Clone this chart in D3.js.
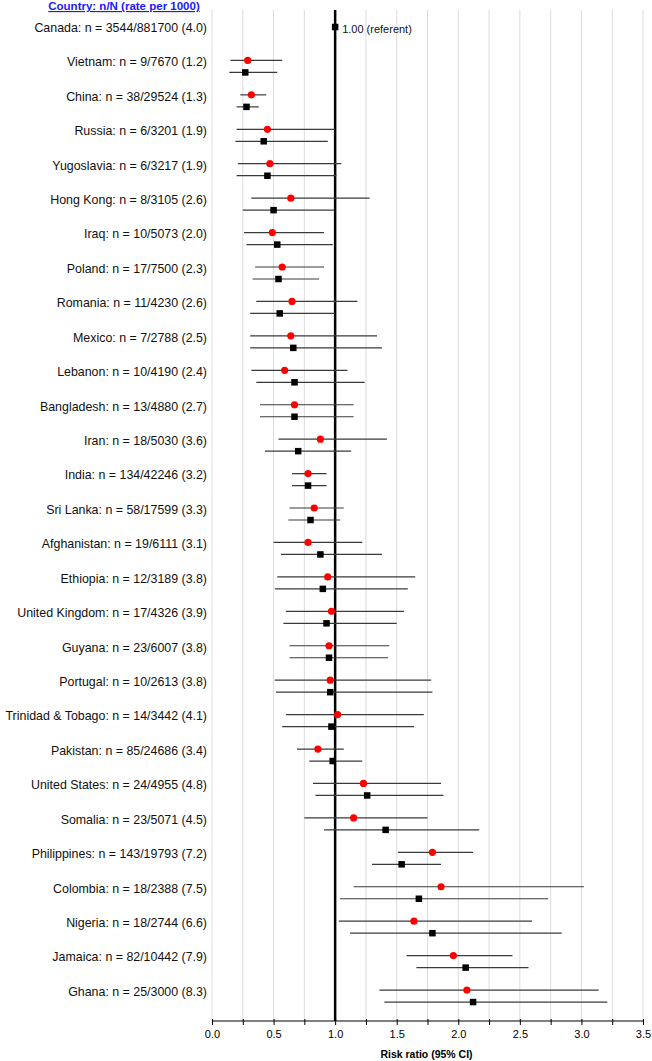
<!DOCTYPE html>
<html>
<head>
<meta charset="utf-8">
<script src="https://cdn.jsdelivr.net/npm/d3@7"></script>
<style>
  body { margin: 0; background: #fff; }
  svg { font-family: Arial, "Liberation Sans", sans-serif; }
</style>
</head>
<body>
<div id="chart"></div>
<script>
var WIDTH = 652, HEIGHT = 1061;
var PLOT_LEFT = 212, PLOT_RIGHT = 643;
var PLOT_TOP = 10, AXIS_Y = 1021;
var ROW_FIRST = 27, ROW_STEP = 34.43;

var countries = ["Canada: n = 3544/881700 (4.0)", "Vietnam: n = 9/7670 (1.2)", "China: n = 38/29524 (1.3)",
  "Russia: n = 6/3201 (1.9)", "Yugoslavia: n = 6/3217 (1.9)", "Hong Kong: n = 8/3105 (2.6)",
  "Iraq: n = 10/5073 (2.0)", "Poland: n = 17/7500 (2.3)", "Romania: n = 11/4230 (2.6)",
  "Mexico: n = 7/2788 (2.5)", "Lebanon: n = 10/4190 (2.4)", "Bangladesh: n = 13/4880 (2.7)",
  "Iran: n = 18/5030 (3.6)", "India: n = 134/42246 (3.2)", "Sri Lanka: n = 58/17599 (3.3)",
  "Afghanistan: n = 19/6111 (3.1)", "Ethiopia: n = 12/3189 (3.8)", "United Kingdom: n = 17/4326 (3.9)",
  "Guyana: n = 23/6007 (3.8)", "Portugal: n = 10/2613 (3.8)", "Trinidad & Tobago: n = 14/3442 (4.1)",
  "Pakistan: n = 85/24686 (3.4)", "United States: n = 24/4955 (4.8)", "Somalia: n = 23/5071 (4.5)",
  "Philippines: n = 143/19793 (7.2)", "Colombia: n = 18/2388 (7.5)", "Nigeria: n = 18/2744 (6.6)",
  "Jamaica: n = 82/10442 (7.9)", "Ghana: n = 25/3000 (8.3)"];

// red circles (first estimate), null for the referent row
var redRR = [null, 0.29, 0.32, 0.45, 0.47, 0.64, 0.49, 0.57, 0.65, 0.64, 0.59, 0.67, 0.88, 0.78, 0.83,
  0.78, 0.94, 0.97, 0.95, 0.96, 1.02, 0.86, 1.23, 1.15, 1.79, 1.86, 1.64, 1.96, 2.07];
var redLo = [null, 0.15, 0.23, 0.20, 0.21, 0.32, 0.26, 0.35, 0.36, 0.31, 0.32, 0.39, 0.54, 0.65, 0.63,
  0.50, 0.53, 0.60, 0.63, 0.51, 0.60, 0.69, 0.82, 0.75, 1.51, 1.15, 1.03, 1.58, 1.36];
var redHi = [null, 0.57, 0.44, 1.00, 1.05, 1.28, 0.91, 0.91, 1.18, 1.34, 1.10, 1.15, 1.42, 0.93, 1.07,
  1.22, 1.65, 1.56, 1.44, 1.78, 1.72, 1.07, 1.86, 1.75, 2.12, 3.02, 2.60, 2.44, 3.14];

// black squares (second estimate)
var blackRR = [1.00, 0.27, 0.28, 0.42, 0.45, 0.50, 0.53, 0.54, 0.55, 0.66, 0.67, 0.67, 0.70, 0.78, 0.80,
  0.88, 0.90, 0.93, 0.95, 0.96, 0.97, 0.98, 1.26, 1.41, 1.54, 1.68, 1.79, 2.06, 2.12];
var blackLo = [null, 0.14, 0.20, 0.19, 0.20, 0.25, 0.28, 0.33, 0.31, 0.31, 0.36, 0.39, 0.43, 0.65, 0.62,
  0.56, 0.51, 0.58, 0.63, 0.52, 0.57, 0.79, 0.84, 0.91, 1.30, 1.04, 1.12, 1.66, 1.40];
var blackHi = [null, 0.53, 0.38, 0.94, 1.01, 0.99, 0.98, 0.87, 1.00, 1.38, 1.24, 1.15, 1.13, 0.93, 1.04,
  1.38, 1.59, 1.50, 1.43, 1.79, 1.64, 1.22, 1.88, 2.17, 1.86, 2.73, 2.84, 2.57, 3.21];

var xMajorTicks = [0, 0.5, 1.0, 1.5, 2.0, 2.5, 3.0, 3.5];
var xGridTicks = d3.range(0, 3.51, 0.25);

var svg = d3.select("#chart").append("svg")
  .attr("width", WIDTH).attr("height", HEIGHT);

var x = d3.scaleLinear().domain([0, 3.5]).range([PLOT_LEFT, PLOT_RIGHT]);
var y = function(i) { return ROW_FIRST + i * ROW_STEP; };

//light vertical gridlines every 0.25
svg.selectAll(".grid")
  .data(xGridTicks)
  .enter().append("line")
  .attr("x1", function(d) { return x(d); }).attr("x2", function(d) { return x(d); })
  .attr("y1", PLOT_TOP).attr("y2", AXIS_Y)
  .attr("stroke", "#dcdcdc").attr("stroke-width", 1);

//bottom axis
var axis = d3.axisBottom(x).tickValues(xGridTicks).tickSize(4)
  .tickFormat(function(d) { return xMajorTicks.indexOf(d) >= 0 ? d3.format(".1f")(d) : ""; });
var axisG = svg.append("g").attr("transform", "translate(0," + AXIS_Y + ")").call(axis);
axisG.select(".domain").attr("stroke", "#000").attr("d", "M" + PLOT_LEFT + ",0H" + PLOT_RIGHT);
axisG.selectAll(".tick line").attr("stroke", "#000").attr("y1", -2);
axisG.selectAll(".tick text").attr("font-size", "11px").attr("fill", "#000").attr("dy", "0.95em");

svg.append("text")
  .attr("x", (PLOT_LEFT + PLOT_RIGHT) / 2 - 1).attr("y", 1058)
  .attr("text-anchor", "middle").attr("font-size", "10.5px").attr("font-weight", "bold")
  .text("Risk ratio (95% CI)");

//referent line
svg.append("line")
  .attr("x1", x(1)).attr("x2", x(1)).attr("y1", PLOT_TOP).attr("y2", AXIS_Y)
  .attr("stroke", "#000").attr("stroke-width", 2.5);

//header
svg.append("text")
  .attr("x", 124).attr("y", 10)
  .attr("text-anchor", "middle").attr("font-size", "11.5px").attr("font-weight", "bold")
  .attr("fill", "#1a1aff").attr("text-decoration", "underline")
  .text("Country:  n/N (rate per 1000)");

//row labels
svg.selectAll(".rowLabel")
  .data(countries)
  .enter().append("text")
  .attr("class", "rowLabel")
  .attr("x", 207).attr("y", function(d, i) { return y(i) + 0.5; })
  .attr("dy", "0.35em").attr("text-anchor", "end").attr("font-size", "12.4px")
  .attr("fill", "#111")
  .text(function(d) { return d; });

var rows = d3.range(countries.length);
var RED_OFF = -1, BLACK_OFF = 11;

//CI lines
var ciRows = rows.filter(function(i) { return redRR[i] != null; });
svg.selectAll(".ciRed").data(ciRows).enter().append("line")
  .attr("x1", function(i) { return x(redLo[i]); }).attr("x2", function(i) { return x(redHi[i]); })
  .attr("y1", function(i) { return y(i) + RED_OFF; }).attr("y2", function(i) { return y(i) + RED_OFF; })
  .attr("stroke", "#3a3a3a").attr("stroke-width", 1.2);
svg.selectAll(".ciBlack").data(ciRows).enter().append("line")
  .attr("x1", function(i) { return x(blackLo[i]); }).attr("x2", function(i) { return x(blackHi[i]); })
  .attr("y1", function(i) { return y(i) + BLACK_OFF; }).attr("y2", function(i) { return y(i) + BLACK_OFF; })
  .attr("stroke", "#3a3a3a").attr("stroke-width", 1.2);

//point estimates
svg.selectAll(".redDot").data(ciRows).enter().append("circle")
  .attr("cx", function(i) { return x(redRR[i]); })
  .attr("cy", function(i) { return y(i) + RED_OFF; })
  .attr("r", 3.6).attr("fill", "#ff0000");

var SQ = 6.5;
svg.selectAll(".blackSq").data(rows).enter().append("rect")
  .attr("x", function(i) { return x(blackRR[i]) - SQ / 2; })
  .attr("y", function(i) { return (i == 0 ? y(i) : y(i) + BLACK_OFF) - SQ / 2; })
  .attr("width", SQ).attr("height", SQ).attr("fill", "#000");

svg.append("text")
  .attr("x", x(1) + 7).attr("y", y(0) + 2)
  .attr("dy", "0.35em").attr("font-size", "11px").attr("fill", "#111")
  .text("1.00 (referent)");
</script>
</body>
</html>
